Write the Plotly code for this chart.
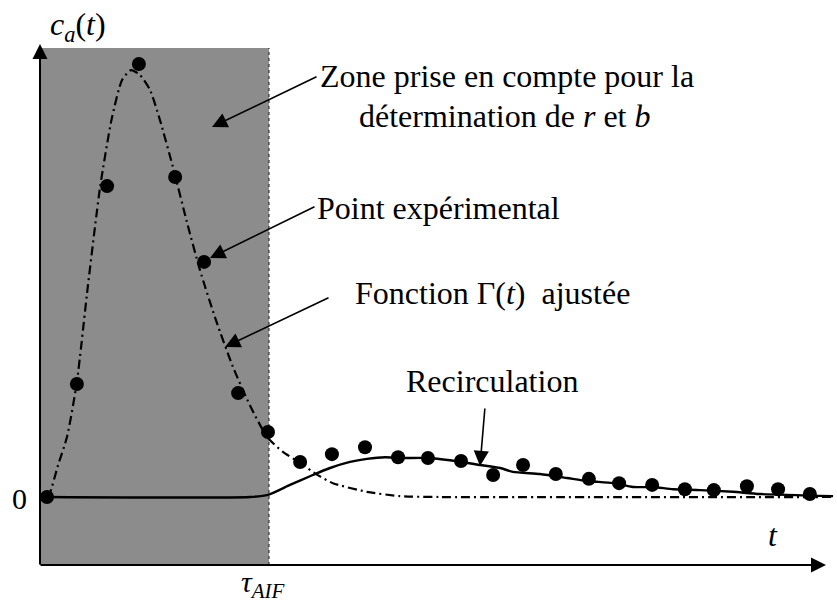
import plotly.graph_objects as go

# ---------------- data (t in sampling intervals, c_a normalised to the peak) -------------
t_points = [0, 0.94, 1.89, 2.89, 4.03, 4.94, 6.01, 6.95, 7.96, 8.96, 10.0, 11.04, 11.98,
            13.02, 14.03, 14.97, 16.0, 17.04, 17.99, 19.03, 20.06, 20.97, 22.01, 22.99, 23.99]
c_points = [0, 0.261, 0.718, 1.0, 0.739, 0.543, 0.240, 0.150, 0.081, 0.099, 0.115, 0.092, 0.090,
            0.083, 0.051, 0.074, 0.053, 0.042, 0.032, 0.028, 0.018, 0.016, 0.025, 0.018, 0.007]

t_gamma = [0, 0.09, 0.35, 0.63, 0.94, 1.29, 1.67, 2.04, 2.36, 2.64, 2.92, 3.24, 3.55, 3.96,
           4.40, 4.81, 5.31, 5.85, 6.38, 6.92, 7.42, 7.96, 8.46, 8.99, 10.06, 11.10, 12.36, 24.72]
c_gamma = [0, 0.009, 0.074, 0.139, 0.266, 0.490, 0.716, 0.875, 0.963, 0.986, 0.975, 0.940, 0.871,
           0.762, 0.635, 0.524, 0.409, 0.300, 0.212, 0.139, 0.104, 0.079, 0.053, 0.032, 0.012,
           0.002, 0, 0]

t_recirc = [0, 6.38, 6.95, 7.64, 8.27, 8.90, 9.53, 10.06, 10.63, 11.10, 12.04, 13.02, 13.62,
            14.25, 14.65, 15.50, 16.35, 16.98, 17.80, 18.43, 19.06, 19.69, 20.53, 21.57, 22.42, 24.72]
c_recirc = [0, 0, 0.005, 0.028, 0.048, 0.067, 0.081, 0.088, 0.092, 0.090, 0.090, 0.081, 0.074,
            0.067, 0.058, 0.053, 0.044, 0.037, 0.032, 0.023, 0.023, 0.018, 0.016, 0.012, 0.007, 0.002]

tau_aif = 6.98          # end of the fitting zone
t_origin = -0.22        # where the drawn axes cross
c_origin = -0.157
zone_top = 1.037

x_range = [-1.478, 24.843]
y_range = [-0.254, 1.1478]

W, H = 837, 607
FONT = "Liberation Serif, Times New Roman, serif"
GRAY = "#8c8c8c"


def it(s):
    return ('<span style="font-family:\'Liberation Serif\';font-style:italic">%s</span>' % s)


fig = go.Figure()

# fitted gamma-variate (dash-dot)
fig.add_trace(go.Scatter(x=t_gamma, y=c_gamma, mode="lines",
                         line=dict(color="black", width=2.2, dash="9px,4px,2px,4px", shape="spline", smoothing=0.6),
                         hoverinfo="skip", showlegend=False))
# recirculation (solid)
fig.add_trace(go.Scatter(x=t_recirc, y=c_recirc, mode="lines",
                         line=dict(color="black", width=2.4, shape="spline", smoothing=0.6),
                         hoverinfo="skip", showlegend=False))
# experimental points
fig.add_trace(go.Scatter(x=t_points, y=c_points, mode="markers",
                         marker=dict(color="black", size=14, line=dict(width=0)),
                         showlegend=False))

shapes = [
    dict(type="rect", xref="x", yref="y", x0=t_origin, x1=tau_aif, y0=c_origin, y1=zone_top,
         fillcolor=GRAY, line=dict(width=0), layer="below"),
    dict(type="line", xref="x", yref="y", x0=tau_aif, x1=tau_aif, y0=c_origin, y1=zone_top,
         line=dict(color="#333333", width=1.2, dash="dot"), layer="below"),
]


def px(xp):
    return xp / W


def py(yp):
    return 1 - yp / H


annotations = []


def text(s, x, y, size=32, xanchor="center"):
    annotations.append(dict(text=s, x=px(x), y=py(y), xref="paper", yref="paper",
                            showarrow=False, xanchor=xanchor, yanchor="middle",
                            font=dict(family=FONT, size=size, color="black")))


def arrow(x_tail, y_tail, x_head, y_head, width=1.6, size=1.9):
    annotations.append(dict(text="", x=px(x_head), y=py(y_head), xref="paper", yref="paper",
                            ax=x_tail - x_head, ay=y_tail - y_head, axref="pixel", ayref="pixel",
                            showarrow=True, arrowhead=2, arrowsize=size, arrowwidth=width,
                            arrowcolor="black", standoff=0))


# axes
arrow(40, 566, 40, 44, width=2, size=1.5)
arrow(39, 565, 826, 565, width=2, size=1.5)

# labels
text(it("c") + "<sub>" + it("a") + "</sub>(" + it("t") + ")", 78, 26)
text(it("t"), 773, 535)
text("0", 19, 498, size=30)
text(it("τ") + "<sub>" + it("AIF") + "</sub>", 263, 584, size=30)

text("Zone prise en compte pour la", 507, 76)
text("détermination de " + it("r") + " et " + it("b"), 505, 116)
text("Point expérimental", 438, 208)
text("Fonction Γ(" + it("t") + ")  ajustée", 492, 293)
text("Recirculation", 492, 381)

arrow(318, 76, 212, 127)
arrow(316, 206, 210, 258)
arrow(330, 297, 225, 347)
arrow(485, 407, 480, 466)

fig.update_layout(
    width=W, height=H,
    margin=dict(l=0, r=0, t=0, b=0),
    paper_bgcolor="white", plot_bgcolor="white",
    xaxis=dict(range=x_range, visible=False, fixedrange=True),
    yaxis=dict(range=y_range, visible=False, fixedrange=True),
    shapes=shapes, annotations=annotations,
    showlegend=False,
)

fig.write_html("out.html", config={"displayModeBar": False},
               post_script="document.body.style.margin='0';document.body.style.overflow='hidden';")
